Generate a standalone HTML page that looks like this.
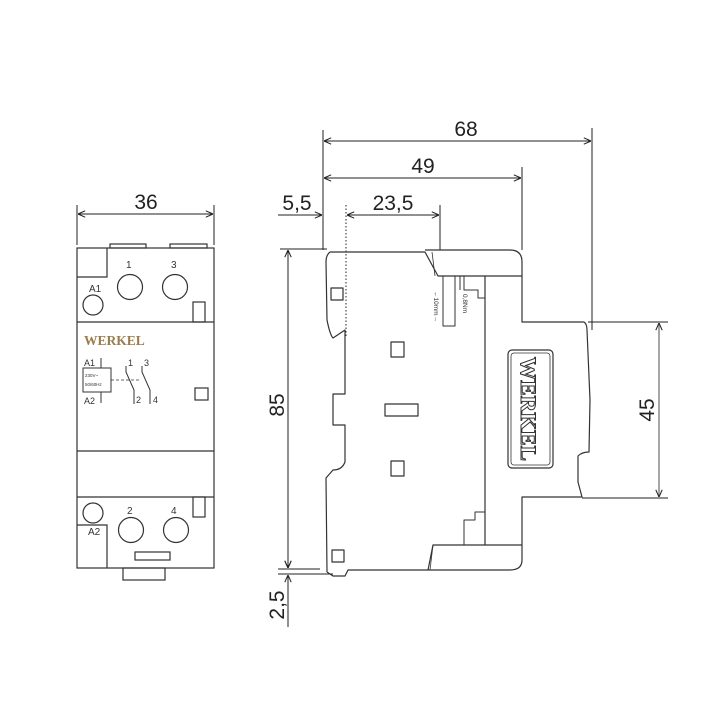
<!DOCTYPE html>
<html><head><meta charset="utf-8"><style>
html,body{margin:0;padding:0;background:#fff;}
svg{display:block;}
text{font-family:"Liberation Sans",sans-serif;}
</style></head><body>
<svg width="705" height="701" viewBox="0 0 705 701" xmlns="http://www.w3.org/2000/svg">
<defs>
<marker id="a" viewBox="0 0 10 10" refX="10" refY="5" markerWidth="8" markerHeight="8" orient="auto-start-reverse" markerUnits="userSpaceOnUse">
<path d="M1,1 L10,5 L1,9" fill="none" stroke="#222" stroke-width="1.3"/>
</marker>
</defs>
<g stroke="#222" stroke-width="1" fill="none">
<!-- dimension lines -->
<line x1="323" y1="130" x2="323" y2="250"/>
<line x1="592" y1="128" x2="592" y2="330"/>
<line x1="522" y1="167" x2="522" y2="250"/>
<line x1="440" y1="205" x2="440" y2="250"/>
<line x1="324" y1="141" x2="591" y2="141" marker-start="url(#a)" marker-end="url(#a)"/>
<line x1="324" y1="178" x2="521" y2="178" marker-start="url(#a)" marker-end="url(#a)"/>
<line x1="347" y1="215" x2="439" y2="215" marker-start="url(#a)" marker-end="url(#a)"/>
<line x1="278" y1="215" x2="322" y2="215" marker-end="url(#a)"/>
<line x1="346" y1="205" x2="346" y2="338" stroke-dasharray="1.5 2"/>
<!-- 36 -->
<line x1="77" y1="205" x2="77" y2="245"/>
<line x1="214" y1="205" x2="214" y2="245"/>
<line x1="78" y1="214" x2="213" y2="214" marker-start="url(#a)" marker-end="url(#a)"/>
<!-- 85 -->
<line x1="280" y1="249" x2="327" y2="249"/>
<line x1="278" y1="569" x2="320" y2="569"/>
<line x1="278" y1="574" x2="333" y2="574"/>
<line x1="288" y1="250" x2="288" y2="568" marker-start="url(#a)" marker-end="url(#a)"/>
<line x1="288" y1="557" x2="288" y2="568" marker-end="url(#a)"/>
<line x1="288" y1="575" x2="288" y2="627" marker-start="url(#a)"/>
<!-- 45 -->
<line x1="588" y1="322" x2="668" y2="322"/>
<line x1="582" y1="498" x2="668" y2="498"/>
<line x1="659" y1="323" x2="659" y2="497" marker-start="url(#a)" marker-end="url(#a)" stroke="#888" stroke-width="1.5"/>
</g>
<g font-size="21" fill="#222" text-anchor="middle">
<text x="466" y="136">68</text>
<text x="423" y="173">49</text>
<text x="393" y="210">23,5</text>
<text x="297" y="210">5,5</text>
<text x="146" y="209">36</text>
<text transform="translate(284,405) rotate(-90)">85</text>
<text transform="translate(284,605) rotate(-90)">2,5</text>
<text transform="translate(654,410) rotate(-90)">45</text>
</g>

<!-- front view -->
<g stroke="#333" stroke-width="1.2" fill="none">
<rect x="110" y="244" width="36" height="4"/>
<rect x="170" y="244" width="37" height="4"/>
<rect x="77" y="248" width="137" height="320"/>
<line x1="77" y1="322" x2="214" y2="322"/>
<line x1="77" y1="451" x2="214" y2="451"/>
<line x1="77" y1="497" x2="214" y2="497"/>
<polyline points="77,277 107,277 107,248"/>
<circle cx="130" cy="287" r="12.5"/>
<circle cx="175" cy="287" r="12.5"/>
<circle cx="93" cy="305" r="10"/>
<rect x="193" y="302" width="12" height="20"/>
<rect x="195" y="388" width="13" height="12"/>
<circle cx="93" cy="513" r="10"/>
<circle cx="131" cy="530" r="12.5"/>
<circle cx="176" cy="530" r="12.5"/>
<rect x="193" y="497" width="12" height="20"/>
<polyline points="77,525 107,525 107,568"/>
<rect x="135" y="552" width="35" height="8"/>
<rect x="123" y="568" width="42" height="12"/>
<!-- schematic -->
<rect x="83" y="368" width="28" height="24" stroke-width="1"/>
<line x1="101" y1="358" x2="101" y2="368" stroke-width="1"/>
<line x1="101" y1="392" x2="101" y2="403" stroke-width="1"/>
<line x1="111" y1="380" x2="140" y2="380" stroke-width="0.8" stroke-dasharray="3 2"/>
<path d="M126,366 L126,372 L134,390 L134,404 M142,366 L142,372 L150,390 L150,404" stroke-width="1"/>
</g>
<g fill="#333" font-size="10">
<text x="89" y="292">A1</text>
<text x="126" y="268">1</text>
<text x="171" y="268">3</text>
<text x="127" y="514">2</text>
<text x="171" y="514">4</text>
<text x="88" y="535">A2</text>
<text x="84" y="366" font-size="9">A1</text>
<text x="84" y="404" font-size="9">A2</text>
<text x="128" y="366" font-size="9">1</text>
<text x="144" y="366" font-size="9">3</text>
<text x="136" y="403" font-size="9">2</text>
<text x="153" y="403" font-size="9">4</text>
<text x="85" y="377" font-size="4.5">230V~</text>
<text x="85" y="386" font-size="4.5">50/60Hz</text>
</g>
<text x="84" y="345" font-family="Liberation Serif,serif" font-weight="bold" font-size="13.5" fill="#9a7d4e" style="font-family:'Liberation Serif',serif">WERKEL</text>

<!-- side view -->
<g stroke="#333" stroke-width="1.2" fill="none" stroke-linejoin="round">
<path d="M330,252 L425,252 L438,276 L522,276"/>
<path d="M330,252 Q326,255 326,262 L327,320 Q330,335 333,338 L345,330 L345,394 L333,394 L333,425 L345,425 L345,462 Q342,470 333,470 L326,478 L327,572"/>
<path d="M425,250 L510,250 Q522,250 522,262 L522,322 L584,322 Q587,324 587,330 L590,400 L589,452 Q582,452 578,456 L578,482 L582,497 L522,497 L522,560 Q522,570 510,570 L428,570 L433,545 L522,545"/>
<path d="M327,572 L333,576 L345,576 L348,570 L428,570"/>
<line x1="485" y1="276" x2="485" y2="545"/>
<path d="M435,276 L432,252" stroke-width="0.8"/>
<path d="M433,545 L430,570" stroke-width="0.8"/>
<path d="M464,545 L464,520 L475,520 L475,512 L485,512" stroke-width="1"/>
<path d="M443,276 L443,326 L455,326 L455,276 M460,276 L460,290 M464,276 L464,290 L478,290 L478,298 L485,298" stroke-width="1"/>
<rect x="331" y="288" width="12" height="12"/>
<rect x="391" y="342" width="13" height="15"/>
<rect x="385" y="404" width="33" height="12"/>
<rect x="391" y="461" width="13" height="15"/>
<rect x="332" y="550" width="12" height="12"/>
<rect x="508" y="350" width="45" height="118" rx="4"/>
<rect x="511" y="353" width="39" height="112" rx="3" stroke-width="0.8"/>
</g>
<text transform="translate(521,357) rotate(90)" font-size="22" font-weight="bold" fill="#fff" stroke="#333" stroke-width="1" font-family="Liberation Serif,serif" style="font-family:'Liberation Serif',serif" textLength="104" lengthAdjust="spacingAndGlyphs">WERKEL</text>
<text transform="translate(434,291) rotate(90)" font-size="6.5" fill="#333">←10mm→</text>
<text transform="translate(463,294) rotate(90)" font-size="6.5" fill="#333">0,8Nm</text>
</svg>
</body></html>
